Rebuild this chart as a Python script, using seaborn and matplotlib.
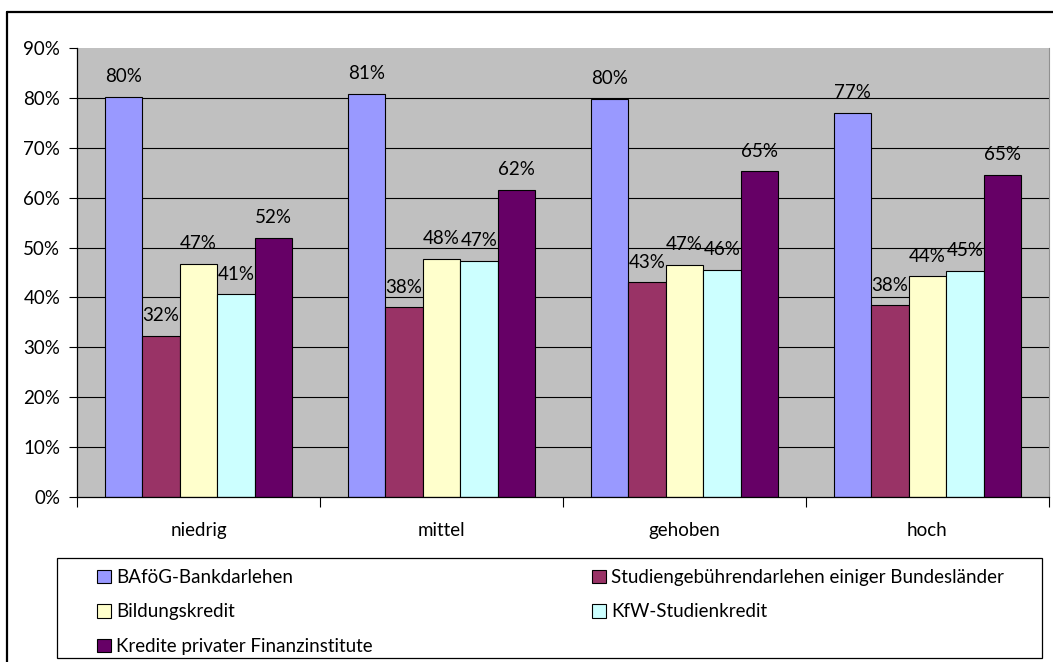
import matplotlib
matplotlib.use("Agg")
import matplotlib.pyplot as plt
from matplotlib.lines import Line2D
from matplotlib.patches import Rectangle
from matplotlib.ticker import FixedLocator, FuncFormatter
import numpy as np
import pandas as pd
import seaborn as sns

# Einkommensgruppen (x-Achse)
categories = ["niedrig", "mittel", "gehoben", "hoch"]

# Kreditformen (Datenreihen)
series = [
    "BAföG-Bankdarlehen",
    "Studiengebührendarlehen einiger Bundesländer",
    "Bildungskredit",
    "KfW-Studienkredit",
    "Kredite privater Finanzinstitute",
]

# Anteile in Prozent je Kreditform und Einkommensgruppe
bafoeg = [80.3, 80.9, 79.8, 77.1]
studiengebuehren = [32.3, 38.0, 43.0, 38.4]
bildungskredit = [46.7, 47.7, 46.6, 44.2]
kfw = [40.6, 47.4, 45.6, 45.3]
privat = [51.9, 61.6, 65.3, 64.6]

colors = ["#9999FF", "#993366", "#FFFFCC", "#CCFFFF", "#660066"]

values = [bafoeg, studiengebuehren, bildungskredit, kfw, privat]
df = pd.DataFrame(
    [
        {"Gruppe": cat, "Kredit": name, "Anteil": vals[i]}
        for name, vals in zip(series, values)
        for i, cat in enumerate(categories)
    ]
)

sns.set_theme(style="white")
plt.rcParams["font.family"] = ["Lato", "DejaVu Sans"]
FS = 13.5

W, H = 1053, 662
fig = plt.figure(figsize=(W / 100, H / 100), dpi=100)
ax = fig.add_axes([77 / W, 1 - 496.7 / H, (1049 - 77) / W, (496.7 - 48.3) / H])

sns.barplot(
    data=df, x="Gruppe", y="Anteil", hue="Kredit",
    order=categories, hue_order=series, palette=colors,
    width=0.77, saturation=1, edgecolor="black", linewidth=0.8,
    errorbar=None, ax=ax,
)

ax.set_facecolor("#C0C0C0")
ax.set_xlim(-0.5, len(categories) - 0.5)
ax.set_ylim(0, 90)
ax.set_xlabel("")
ax.set_ylabel("")

# y-Achse mit Prozentbeschriftung
ax.yaxis.set_major_locator(FixedLocator(np.arange(0, 91, 10)))
ax.yaxis.set_major_formatter(FuncFormatter(lambda v, p: f"{v:.0f}%"))
ax.tick_params(axis="y", which="major", left=True, length=6, width=0.8,
               color="black", labelsize=FS, labelcolor="black", pad=6)

# x-Achse: Beschriftung mittig, Teilstriche an den Gruppengrenzen
ax.set_xticks(range(len(categories)))
ax.set_xticklabels(categories)
ax.tick_params(axis="x", which="major", length=0, labelsize=FS,
               labelcolor="black", pad=18)
ax.set_xticks(np.arange(-0.5, len(categories), 1.0), minor=True)
ax.tick_params(axis="x", which="minor", bottom=True, length=7, width=0.8,
               color="black")

# Gitternetzlinien
for v in range(10, 90, 10):
    ax.axhline(v, color="black", linewidth=0.8, zorder=0.5)

for side in ["left", "bottom"]:
    ax.spines[side].set_color("black")
    ax.spines[side].set_linewidth(0.9)
ax.spines["top"].set_visible(False)
ax.spines["right"].set_color("#909090")
ax.spines["right"].set_linewidth(0.8)

# Wertebeschriftungen über den Balken
for container, vals in zip(ax.containers, values):
    for rect, v in zip(container.patches, vals):
        ax.annotate(
            f"{v:.0f}%",
            (rect.get_x() + rect.get_width() / 2, rect.get_height()),
            xytext=(0, 14.5), textcoords="offset points",
            ha="center", va="center", fontsize=FS, color="black",
        )

# Legende zweispaltig unter dem Diagramm
old = ax.get_legend()
handles = list(old.legend_handles)
labels = [t.get_text() for t in old.texts]
old.remove()
for h in handles:
    h.set_edgecolor("black")
    h.set_linewidth(0.8)
order = [0, 2, 4, 1, 3]
leg = ax.legend(
    [handles[i] for i in order], [labels[i] for i in order],
    ncol=2, mode="expand", loc="upper left",
    bbox_to_anchor=(97 / W, 1 - 654 / H, (1004 - 97) / W, 85 / H),
    bbox_transform=fig.transFigure,
    fontsize=FS, frameon=False,
    handlelength=0.72, handleheight=0.72, handletextpad=0.3,
    labelspacing=0.93, borderpad=0, borderaxespad=0,
)
for t in leg.get_texts():
    t.set_color("black")

# Rahmen der Legende
fig.add_artist(Rectangle((57 / W, 1 - 658 / H), (1042 - 57) / W, 100 / H,
                         transform=fig.transFigure, fill=False,
                         edgecolor="black", linewidth=0.9))

# Rahmen des Diagrammbereichs
fig.add_artist(Line2D([7 / W, 7 / W], [0, 1 - 12 / H], color="black",
                      linewidth=1.6, transform=fig.transFigure))
fig.add_artist(Line2D([7 / W, 1], [1 - 12 / H, 1 - 12 / H], color="black",
                      linewidth=1.6, transform=fig.transFigure))

fig.savefig("out.png", dpi=100, facecolor="white")
